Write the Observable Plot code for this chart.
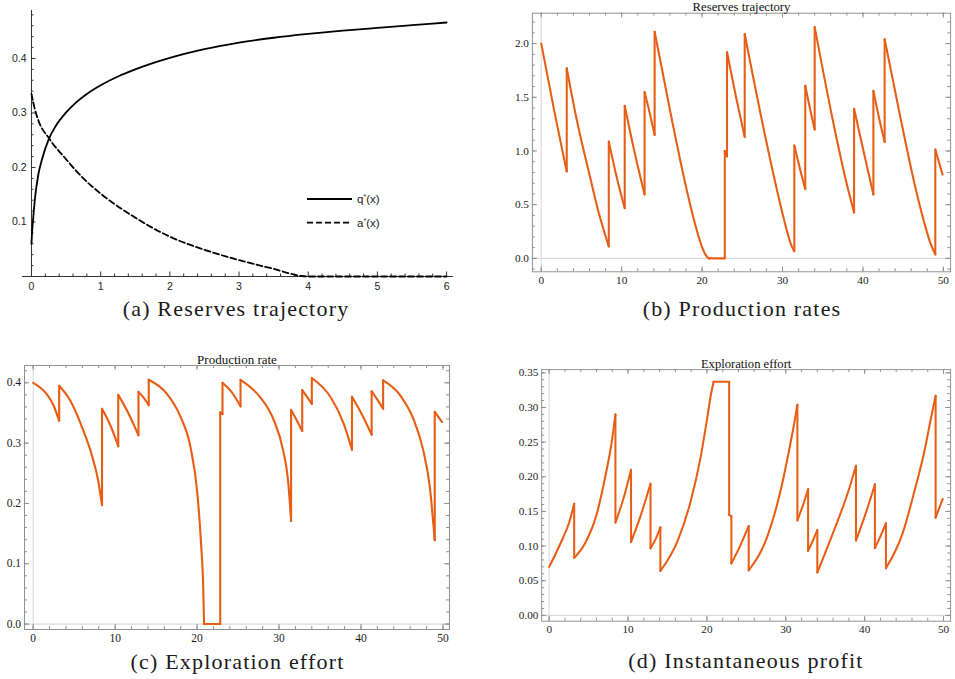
<!DOCTYPE html>
<html><head><meta charset="utf-8">
<script src="https://cdn.jsdelivr.net/npm/d3@7"></script>
<script src="https://cdn.jsdelivr.net/npm/@observablehq/plot@0.6"></script>
<style>
html,body{margin:0;padding:0;width:955px;height:679px;overflow:hidden;background:#fff;}
.panel{position:absolute;}
.cap{position:absolute;font-family:"Liberation Serif",serif;font-size:22px;letter-spacing:1.2px;color:#1a1a1a;transform:translate(-50%,-50%);white-space:nowrap;}
.legend{position:absolute;left:0;top:0;}
</style></head><body>
<div id="a" class="panel" style="left:0;top:0"></div>
<svg class="legend" width="460" height="300" style="font-family:'Liberation Sans',Arial,sans-serif;font-size:11.5px">
  <line x1="307" y1="199" x2="352" y2="199" stroke="#000" stroke-width="1.8"/>
  <line x1="307" y1="222.7" x2="352" y2="222.7" stroke="#000" stroke-width="1.8" stroke-dasharray="6,3"/>
  <text x="357" y="203" fill="#222">q<tspan dy="-4" font-size="7">*</tspan><tspan dy="4">(x)</tspan></text>
  <text x="357" y="226.7" fill="#222">a<tspan dy="-4" font-size="7">*</tspan><tspan dy="4">(x)</tspan></text>
</svg>
<div id="b" class="panel" style="left:480px;top:0"></div>
<div id="c" class="panel" style="left:0;top:340px"></div>
<div id="d" class="panel" style="left:480px;top:340px"></div>
<div class="cap" style="left:236px;top:309px">(a) Reserves trajectory</div>
<div class="cap" style="left:742px;top:309px">(b) Production rates</div>
<div class="cap" style="left:237.5px;top:662px">(c) Exploration effort</div>
<div class="cap" style="left:746px;top:661px">(d) Instantaneous profit</div>
<script>
// ---------- Panel (a): optimal policies ----------
const qX = [0, 0.01, 0.02, 0.05, 0.1, 0.15, 0.25, 0.35, 0.5, 0.65, 0.8, 1, 1.25, 1.5, 2, 2.5, 3, 3.5, 4, 4.5, 5, 5.5, 6];
const qY = [0.06, 0.085, 0.1, 0.143, 0.188, 0.214, 0.252, 0.276, 0.301, 0.32, 0.335, 0.351, 0.367, 0.38, 0.401, 0.417, 0.429, 0.438, 0.445, 0.451, 0.456, 0.461, 0.466];
const aX = [0, 0.05, 0.1, 0.25, 0.5, 0.75, 1, 1.5, 2, 2.5, 3, 3.5, 3.9, 4, 5, 6];
const aY = [0.335, 0.306, 0.286, 0.254, 0.215, 0.18, 0.152, 0.108, 0.073, 0.049, 0.03, 0.014, 0.001, 0, 0, 0];
const aXTicks = [0, 1, 2, 3, 4, 5, 6];
const aYTicks = [0.1, 0.2, 0.3, 0.4];

// ---------- Panels (b)-(d): simulated trajectories ----------
const seg = [0,0,0,0, 1,1,1,1,1,1, 2,2,2, 3,3,3, 4,4,4, 5,5,5,5,5,5,5,5, 6,6, 7,7, 8,8,8, 9,9,9,9,9,9, 10,10,10, 11,11,11, 12,12,12,12, 13,13,13, 14,14,14, 15,15,15,15,15,15, 16,16];
const time = [0,1.6,2.5,3.17, 3.17,4.5,6,7.2,7.9,8.4, 8.4,9.4,10.38, 10.38,11.6,12.85, 12.85,13.5,14.1, 14.1,16.3,17.9,19.2,20.0,20.5,20.75,20.85, 20.85,22.82, 22.82,23.1, 23.1,24.2,25.3, 25.3,27.7,29.3,30.5,31.1,31.47, 31.47,32.15,32.83, 32.83,33.4,34.0, 34.0,36.3,37.9,38.9, 38.9,40.1,41.3, 41.3,42.0,42.7, 42.7,44.8,46.4,47.6,48.4,49.0, 49.0,49.9];
const reserves = [2.0,1.38,1.05,0.81, 1.77,1.26,0.78,0.41,0.23,0.11, 1.087,0.75,0.466, 1.42,0.99,0.594, 1.55,1.35,1.15, 2.11,1.27,0.70,0.30,0.105,0.025,0.004,0, 0,0, 1.0,0.95, 1.92,1.51,1.13, 2.09,1.19,0.64,0.27,0.12,0.067, 1.05,0.84,0.645, 1.607,1.4,1.2, 2.155,1.27,0.72,0.426, 1.394,0.99,0.594, 1.56,1.31,1.084, 2.04,1.26,0.70,0.34,0.14,0.037, 1.014,0.78];
const production = [0.4,0.382,0.362,0.337, 0.395,0.371,0.325,0.278,0.24,0.197, 0.357,0.33,0.295, 0.38,0.35,0.313, 0.385,0.375,0.363, 0.405,0.382,0.346,0.293,0.221,0.13,0.06,0, 0,0, 0.351,0.348, 0.40,0.385,0.361, 0.405,0.376,0.34,0.288,0.238,0.171, 0.355,0.338,0.32, 0.388,0.377,0.365, 0.408,0.376,0.332,0.289, 0.377,0.348,0.314, 0.386,0.372,0.357, 0.404,0.379,0.34,0.288,0.227,0.139, 0.352,0.335];
const effort = [0.07,0.108,0.133,0.161, 0.083,0.103,0.145,0.205,0.248,0.29, 0.134,0.168,0.21, 0.106,0.144,0.19, 0.097,0.11,0.127, 0.064,0.108,0.163,0.228,0.282,0.318,0.332,0.337, 0.337,0.337, 0.145,0.143, 0.075,0.1,0.129, 0.065,0.115,0.178,0.243,0.279,0.304, 0.137,0.158,0.182, 0.093,0.107,0.123, 0.062,0.128,0.178,0.216, 0.108,0.146,0.189, 0.097,0.114,0.133, 0.068,0.118,0.183,0.238,0.284,0.317, 0.141,0.168];
const xTickLabels = [0, 10, 20, 30, 40, 50];

const orange = "#E85D14";
const frameC = "#8f8f8f";
const rnd = v => Math.round(v * 1000) / 1000;

// ---- Panel (a)
(function () {
  const W = 460, H = 300, mL = 22, mR = 7, mT = 10, mB = 24;
  const xDom = [-0.13, 6.1], yDom = [0, 0.488];
  const kx = (xDom[1] - xDom[0]) / (W - mL - mR);
  const fh = H - mT - mB;
  const axisC = "#333";
  const xMinor = d3.range(0, 31).map(i => rnd(i * 0.2)).filter(v => !Number.isInteger(v));
  const yMinor = d3.range(1, 25).map(i => rnd(i * 0.02)).filter(v => Math.abs(v * 10 - Math.round(v * 10)) > 1e-6);
  const qRows = qX.map((x, i) => ({x, y: qY[i]}));
  const aRows = aX.map((x, i) => ({x, y: aY[i]}));
  const p = Plot.plot({
    width: W, height: H, marginLeft: mL, marginRight: mR, marginTop: mT, marginBottom: mB,
    axis: null,
    x: {domain: xDom}, y: {domain: yDom},
    style: {fontFamily: "'Liberation Sans', Arial, sans-serif", fontSize: "10.5px", color: "#222", background: "transparent"},
    marks: [
      Plot.ruleY([0], {x1: xDom[0], x2: xDom[1], stroke: axisC, strokeWidth: 1}),
      Plot.ruleX([0], {y1: 0, y2: yDom[1], stroke: axisC, strokeWidth: 1}),
      Plot.ruleX(xMinor, {stroke: axisC, insetTop: fh - 2.5}),
      Plot.ruleX(aXTicks, {stroke: axisC, insetTop: fh - 4.5, insetBottom: -1}),
      Plot.ruleY(yMinor, {x1: 0, x2: 2.5 * kx, stroke: axisC}),
      Plot.ruleY(aYTicks, {x1: 0, x2: 4.5 * kx, stroke: axisC}),
      Plot.line(qRows, {x: "x", y: "y", curve: "monotone-x", stroke: "#000", strokeWidth: 1.8}),
      Plot.line(aRows, {x: "x", y: "y", curve: "monotone-x", stroke: "#000", strokeWidth: 1.8, strokeDasharray: "6,3"}),
      Plot.text(aXTicks, {x: d => d, y: 0, text: d => String(d), dy: 10, fill: "#222"}),
      Plot.text(aYTicks, {x: 0, y: d => d, text: d => d.toFixed(1), dx: -5, textAnchor: "end", fill: "#222"})
    ]
  });
  document.getElementById("a").appendChild(p);
})();

// ---- Panels (b)-(d)
function framePanel(cfg) {
  const {el, W, H, mL, mR, mT, mB, xDom, yDom, yMajor, yMinor, fmt, vals, title} = cfg;
  const rows = time.map((t, i) => ({t, v: vals[i], s: seg[i]}));
  const jumps = [];
  for (let i = 1; i < rows.length; i++) {
    if (rows[i].s !== rows[i - 1].s) jumps.push({t1: rows[i - 1].t, v1: rows[i - 1].v, t2: rows[i].t, v2: rows[i].v});
  }
  const fh = H - mT - mB, fw = W - mL - mR;
  const xMinor = d3.range(0, 51, 2);
  const p = Plot.plot({
    width: W, height: H, marginLeft: mL, marginRight: mR, marginTop: mT, marginBottom: mB,
    x: {domain: xDom}, y: {domain: yDom},
    style: {fontFamily: "'Liberation Serif', 'Times New Roman', serif", fontSize: "11.5px", color: "#1a1a1a", background: "transparent"},
    marks: [
      Plot.ruleY([0], {stroke: "#d2d2d2", strokeWidth: 1}),
      Plot.ruleX([0], {stroke: "#e0e0e0", strokeWidth: 1.3}),
      Plot.ruleX(xMinor, {stroke: frameC, insetTop: fh - 3}),
      Plot.ruleX(xMinor, {stroke: frameC, insetBottom: fh - 3}),
      Plot.ruleX(xTickLabels, {stroke: frameC, insetTop: fh - 5}),
      Plot.ruleX(xTickLabels, {stroke: frameC, insetBottom: fh - 5}),
      Plot.ruleY(yMinor, {stroke: frameC, insetRight: fw - 3}),
      Plot.ruleY(yMinor, {stroke: frameC, insetLeft: fw - 3}),
      Plot.ruleY(yMajor, {stroke: frameC, insetRight: fw - 5}),
      Plot.ruleY(yMajor, {stroke: frameC, insetLeft: fw - 5}),
      Plot.line(rows, {x: "t", y: "v", z: "s", curve: "monotone-x", stroke: orange, strokeWidth: 2.1}),
      Plot.link(jumps, {x1: "t1", y1: "v1", x2: "t2", y2: "v2", stroke: orange, strokeWidth: 2.1, strokeLinecap: "round"}),
      Plot.frame({stroke: frameC}),
      Plot.axisX(xTickLabels, {tickSize: 0, tickPadding: 4, label: null}),
      Plot.axisY(yMajor, {tickSize: 0, tickPadding: 3.5, tickFormat: d3.format(fmt), label: null}),
      Plot.text([title], {frameAnchor: "top", lineAnchor: "bottom", text: d => d, dy: -2, fontSize: 13, fill: "#111"})
    ]
  });
  document.getElementById(el).appendChild(p);
}

framePanel({
  el: "b", W: 485, H: 300, mL: 53, mR: 5, mT: 13, mB: 23,
  xDom: [-1.1, 50.9], yDom: [-0.125, 2.283],
  yMajor: [0, 0.5, 1, 1.5, 2], yMinor: d3.range(-1, 23).map(i => rnd(i * 0.1)),
  fmt: ".1f", vals: reserves, title: "Reserves trajectory"
});
framePanel({
  el: "c", W: 460, H: 310, mL: 24, mR: 11, mT: 25, mB: 21,
  xDom: [-1.06, 50.8], yDom: [-0.009, 0.4287],
  yMajor: [0, 0.1, 0.2, 0.3, 0.4], yMinor: d3.range(0, 22).map(i => rnd(i * 0.02)),
  fmt: ".1f", vals: production, title: "Production rate"
});
framePanel({
  el: "d", W: 489, H: 310, mL: 63, mR: 5, mT: 30, mB: 21,
  xDom: [-0.95, 50.9], yDom: [-0.0084, 0.3546],
  yMajor: [0, 0.05, 0.1, 0.15, 0.2, 0.25, 0.3, 0.35], yMinor: d3.range(0, 36).map(i => rnd(i * 0.01)),
  fmt: ".2f", vals: effort, title: "Exploration effort"
});
</script>
</body></html>
